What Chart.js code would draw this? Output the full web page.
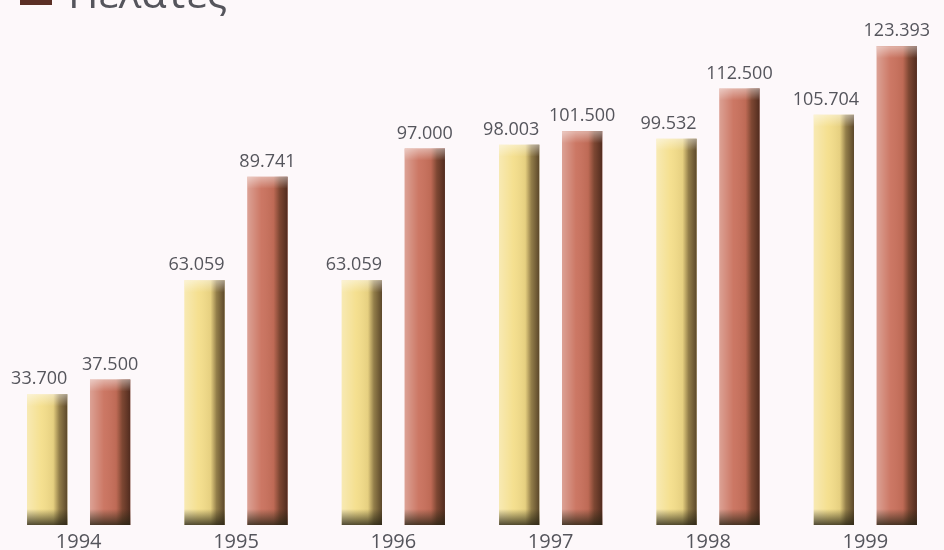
<!DOCTYPE html>
<html>
<head>
<meta charset="utf-8">
<title>Πελάτες 1994-1999</title>
<script src="https://cdn.jsdelivr.net/npm/chart.js"></script>
<style>
  html, body { margin: 0; padding: 0; background: #fdf8fa; overflow: hidden; }
  #wrap { position: relative; width: 944px; height: 559px; }
</style>
</head>
<body>
<div id="wrap"><canvas id="chart"></canvas></div>
<script>
// Yearly figures
const years = ['1994', '1995', '1996', '1997', '1998', '1999'];
const seriesA = [33700, 63059, 63059, 98003, 99532, 105704];
const seriesB = [37500, 89741, 97000, 101500, 112500, 123393];
const legendText = 'Πελάτες';

// 1.234 style thousands separator
function fmt(v) {
  return String(v).replace(/\B(?=(\d{3})+(?!\d))/g, '.');
}

// Shades the bars so they look like rounded columns with a dark foot
const columnShade = {
  id: 'columnShade',
  afterDatasetsDraw(chart) {
    const ctx = chart.ctx;
    chart.data.datasets.forEach((ds, di) => {
      const meta = chart.getDatasetMeta(di);
      meta.data.forEach(bar => {
        const left = bar.x - bar.width / 2;
        const right = bar.x + bar.width / 2;
        const top = bar.y, bottom = bar.base;
        ctx.save();
        const g = ctx.createLinearGradient(left, 0, right, 0);
        g.addColorStop(0, 'rgba(255,255,255,0.35)');
        g.addColorStop(0.35, 'rgba(255,255,255,0.05)');
        g.addColorStop(0.65, 'rgba(60,35,10,0.08)');
        g.addColorStop(0.8, 'rgba(50,30,10,0.5)');
        g.addColorStop(1, 'rgba(40,20,10,0.75)');
        ctx.fillStyle = g;
        ctx.fillRect(left, top, right - left, bottom - top);
        // light cap at the top
        const cap = ctx.createLinearGradient(0, top, 0, top + 12);
        cap.addColorStop(0, 'rgba(255,255,255,0.45)');
        cap.addColorStop(1, 'rgba(255,255,255,0)');
        ctx.fillStyle = cap;
        ctx.fillRect(left, top, right - left, 12);
        // dark foot
        const foot = ctx.createLinearGradient(0, bottom - 16, 0, bottom);
        foot.addColorStop(0, 'rgba(40,40,20,0)');
        foot.addColorStop(1, 'rgba(40,35,20,0.8)');
        ctx.fillStyle = foot;
        ctx.fillRect(left, bottom - 16, right - left, 16);
        ctx.restore();
      });
    });
  }
};

// Value labels above each bar
const valueLabels = {
  id: 'valueLabels',
  afterDatasetsDraw(chart) {
    const ctx = chart.ctx;
    ctx.save();
    ctx.font = '18px "Open Sans", sans-serif';
    ctx.fillStyle = '#55555c';
    ctx.textAlign = 'center';
    ctx.textBaseline = 'bottom';
    chart.data.datasets.forEach((ds, di) => {
      const meta = chart.getDatasetMeta(di);
      meta.data.forEach((bar, i) => {
        const shift = di === 0 ? -8 : 0;
        ctx.fillText(fmt(ds.data[i]), bar.x + shift, bar.y - 6);
      });
    });
    ctx.restore();
  }
};

// Legend entry in the top left corner, partly above the edge
const cornerLegend = {
  id: 'cornerLegend',
  afterDraw(chart) {
    const ctx = chart.ctx;
    ctx.save();
    ctx.fillStyle = '#5b2f25';
    ctx.fillRect(20, -25, 32, 30);
    ctx.font = '42px "Open Sans", sans-serif';
    ctx.fillStyle = '#55555c';
    ctx.textBaseline = 'alphabetic';
    ctx.fillText(legendText, 68, 8);
    ctx.restore();
  }
};

new Chart(document.getElementById('chart'), {
  type: 'bar',
  data: {
    labels: years,
    datasets: [
      { label: 'A', data: seriesA, backgroundColor: '#f4de8a' },
      { label: legendText, data: seriesB, backgroundColor: '#c9705c' }
    ]
  },
  options: {
    responsive: true,
    maintainAspectRatio: false,
    animation: false,
    layout: { padding: { top: 36, left: 0, right: 0, bottom: 0 } },
    datasets: {
      bar: { categoryPercentage: 0.8, barPercentage: 0.64 }
    },
    plugins: {
      legend: { display: false },
      tooltip: { enabled: false }
    },
    scales: {
      x: {
        grid: { display: false, drawTicks: false },
        border: { display: false },
        ticks: {
          color: '#55555c',
          font: { family: '"Open Sans", sans-serif', size: 20 },
          padding: 5
        }
      },
      y: {
        display: false,
        min: 0,
        max: 126000
      }
    }
  },
  plugins: [columnShade, valueLabels, cornerLegend]
});
</script>
</body>
</html>
